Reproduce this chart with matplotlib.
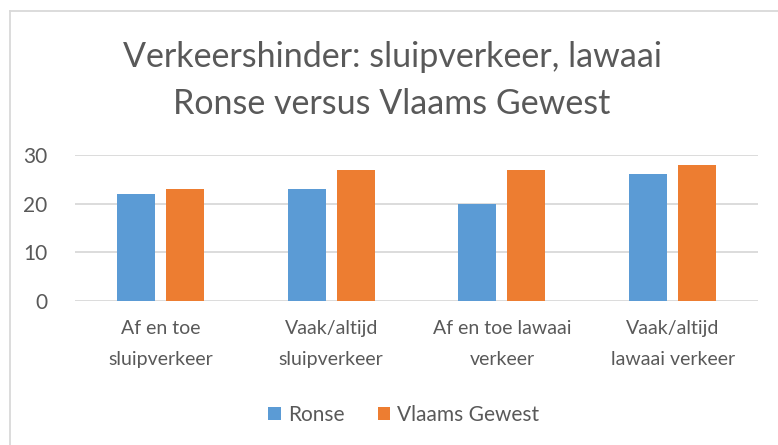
import numpy as np
import matplotlib.pyplot as plt
from matplotlib.lines import Line2D

# data
categories = ['Af en toe\nsluipverkeer', 'Vaak/altijd\nsluipverkeer',
              'Af en toe lawaai\nverkeer', 'Vaak/altijd\nlawaai verkeer']
ronse = [22, 23, 20, 26]
vlaams = [23, 27, 27, 28]

plt.rcParams['font.family'] = ['Lato', 'DejaVu Sans']
txt = '#595959'

fig = plt.figure(figsize=(7.78, 4.45), dpi=100)
ax = fig.add_axes([0.0964, 0.3236, 0.8779, 0.3281])

x = np.arange(len(categories))
w = 0.223
ax.bar(x - 0.1435, ronse, w, color='#5B9BD5', label='Ronse', zorder=3)
ax.bar(x + 0.1435, vlaams, w, color='#ED7D31', label='Vlaams Gewest', zorder=3)

ax.set_xlim(-0.5, 3.5)
ax.set_ylim(0, 30)
ax.set_yticks([0, 10, 20, 30])
ax.grid(axis='y', color='#D9D9D9', linewidth=1.3, zorder=0)
for s in ax.spines.values():
    s.set_visible(False)
ax.tick_params(axis='both', length=0, colors=txt)
ax.tick_params(axis='y', pad=20, labelsize=15)
ax.tick_params(axis='x', pad=14, labelsize=14)
ax.set_xticks(x)
ax.set_xticklabels(categories, linespacing=2.0)

fig.text(0.504, 0.850, 'Verkeershinder: sluipverkeer, lawaai',
         ha='center', va='baseline', fontsize=24.5, color=txt)
fig.text(0.504, 0.744, 'Ronse versus Vlaams Gewest',
         ha='center', va='baseline', fontsize=24.5, color=txt)

fig.legend(loc='center', bbox_to_anchor=(0.519, 0.067), ncol=2, frameon=False,
           fontsize=15, labelcolor=txt, handlelength=0.6, handleheight=0.6,
           columnspacing=1.6, handletextpad=0.35)

# chart border (top and left)
fig.add_artist(Line2D([0.013, 1.0], [0.975, 0.975], color='#D9D9D9', lw=1.3))
fig.add_artist(Line2D([0.013, 0.013], [0.0, 0.975], color='#D9D9D9', lw=1.3))

fig.savefig('out.png', dpi=100, facecolor='white')
